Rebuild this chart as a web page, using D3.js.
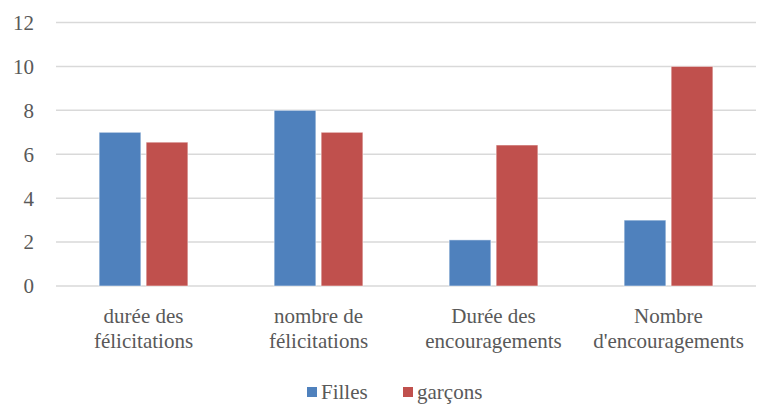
<!DOCTYPE html>
<html>
<head>
<meta charset="utf-8">
<script src="https://cdn.jsdelivr.net/npm/d3@7"></script>
<style>
  body { margin: 0; background: #fff; }
</style>
</head>
<body>
<svg width="773" height="405"></svg>
<script>
const categories = [
  ["durée des", "félicitations"],
  ["nombre de", "félicitations"],
  ["Durée des", "encouragements"],
  ["Nombre", "d'encouragements"]
];
const seriesNames = ["Filles", "garçons"];
const filles = [7, 8, 2.1, 3];
const garcons = [6.55, 7, 6.42, 10];
const yTicks = [0, 2, 4, 6, 8, 10, 12];
const colors = ["#4F81BD", "#C0504D"];

const svg = d3.select("svg")
  .attr("font-family", "'Liberation Serif', Tinos, 'DejaVu Serif', 'Noto Serif', Times, serif");
const margin = {left: 56, right: 17, top: 22.5, bottom: 119};
const width = 773, height = 405;
const textColor = "#595959";

const x = d3.scaleBand()
  .domain(d3.range(categories.length))
  .range([margin.left, width - margin.right]);

const y = d3.scaleLinear()
  .domain([0, 12])
  .range([height - margin.bottom, margin.top]);

// gridlines
svg.append("g")
  .selectAll("line")
  .data(yTicks)
  .join("line")
  .attr("x1", margin.left)
  .attr("x2", width - margin.right)
  .attr("y1", d => y(d))
  .attr("y2", d => y(d))
  .attr("stroke", "#D9D9D9")
  .attr("stroke-width", 1.5);

// y labels
svg.append("g")
  .selectAll("text")
  .data(yTicks)
  .join("text")
  .attr("x", 34)
  .attr("y", d => y(d))
  .attr("dy", "0.35em")
  .attr("text-anchor", "end")
  .attr("font-size", 21)
  .attr("fill", textColor)
  .text(d => d);

const data = categories.map((c, i) => [filles[i], garcons[i]]);
const barW = x.bandwidth() * 0.225;
const inner = d3.scaleBand()
  .domain(seriesNames)
  .range([x.bandwidth() / 2 - barW - 5, x.bandwidth() / 2 + barW + 5])
  .paddingInner(10 / (2 * barW + 10));

const groups = svg.append("g")
  .selectAll("g")
  .data(data)
  .join("g")
  .attr("transform", (d, i) => `translate(${x(i)},0)`);

groups.selectAll("rect")
  .data(d => d.map((v, j) => ({v, j})))
  .join("rect")
  .attr("x", d => inner(seriesNames[d.j]))
  .attr("width", inner.bandwidth())
  .attr("y", d => y(d.v))
  .attr("height", d => y(0) - y(d.v))
  .attr("fill", d => colors[d.j])
  .attr("stroke", "#fff")
  .attr("stroke-opacity", 0.5)
  .attr("stroke-width", 1);

// category labels
const cat = svg.append("g")
  .selectAll("text")
  .data(categories)
  .join("text")
  .attr("text-anchor", "middle")
  .attr("font-size", 21)
  .attr("fill", textColor)
  .attr("transform", (d, i) => `translate(${x(i) + x.bandwidth() / 2},323)`);

cat.selectAll("tspan")
  .data(d => d)
  .join("tspan")
  .attr("x", 0)
  .attr("y", (d, k) => k * 25)
  .text(d => d);

// legend
const legendX = [307, 403];
const legend = svg.append("g")
  .selectAll("g")
  .data(seriesNames)
  .join("g")
  .attr("transform", (d, i) => `translate(${legendX[i]},392)`);

legend.append("rect")
  .attr("x", 0)
  .attr("y", -5)
  .attr("width", 10)
  .attr("height", 10)
  .attr("fill", (d, i) => colors[i]);

legend.append("text")
  .attr("x", 14)
  .attr("dy", "0.35em")
  .attr("font-size", 21)
  .attr("fill", textColor)
  .text(d => d);
</script>
</body>
</html>
